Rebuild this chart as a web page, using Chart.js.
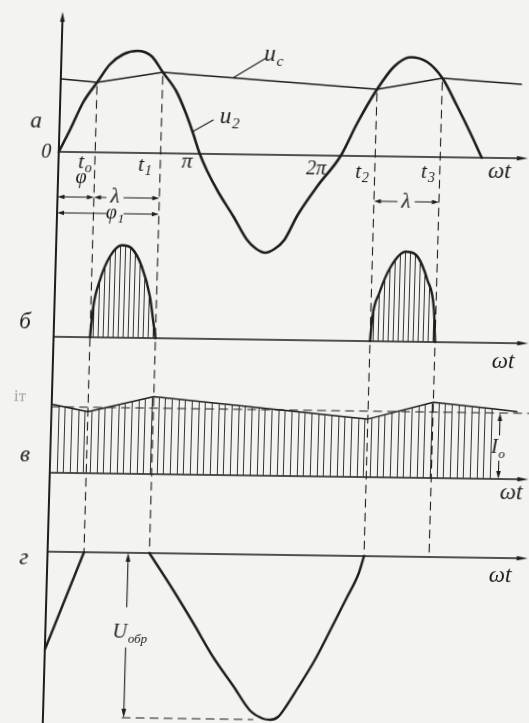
<!DOCTYPE html>
<html>
<head>
<meta charset="utf-8">
<title>Однополупериодный выпрямитель с ёмкостным фильтром</title>
<script src="https://cdn.jsdelivr.net/npm/chart.js"></script>
<style>
  html, body { margin: 0; padding: 0; width: 529px; height: 723px; overflow: hidden; background: #f3f3f1; }
  /* the printed plate sits slightly askew on the page */
  #plate { position: absolute; left: 0; top: 0; width: 560px; height: 740px;
           transform: matrix(1, 0.014, -0.028, 1, 0, 0); transform-origin: 0 0; }
  canvas { display: block; }
</style>
</head>
<body>
<div id="plate"><canvas id="c" width="560" height="740"></canvas></div>
<script>
// ---- data: ωt in electrical degrees, amplitudes in units of U2m ----

// а) secondary voltage u2 and capacitor voltage uc
const u2Deg = [0, 13.5, 29.5, 46.5, 62, 79, 97, 115, 130, 148, 160, 170, 180,
               190, 205, 225, 243, 255, 267, 279, 291, 307, 331, 360,
               380, 404, 425, 446, 467, 487, 507, 525, 540];
const u2Val = [0, 0.22, 0.50, 0.70, 0.88, 0.985, 1.02, 0.97, 0.81, 0.62, 0.42, 0.22, 0,
               -0.17, -0.38, -0.62, -0.85, -0.94, -0.98, -0.94, -0.85, -0.60, -0.31, 0,
               0.33, 0.67, 0.90, 0.995, 0.95, 0.79, 0.51, 0.24, 0];

const tDeg  = [46.5, 130, 404, 487];            // t0, t1, t2, t3
const ucDeg = [0, 46.5, 130, 404, 487, 588];
const ucVal = [0.73, 0.70, 0.81, 0.67, 0.79, 0.74];

// б) diode current pulses
const ia1Deg = [46.5, 49.5, 57, 69, 84, 96.5, 110, 121.5, 127, 130];
const ia1Val = [0, 0.30, 0.57, 0.81, 0.925, 0.895, 0.715, 0.415, 0.15, 0];
const ia2Deg = [404, 406.2, 414, 428, 446.5, 459.5, 475, 484.5, 487];
const ia2Val = [0, 0.245, 0.48, 0.75, 0.90, 0.87, 0.62, 0.32, 0];

// в) load current and its mean value I0
const iLoadDeg = [0, 46.5, 130, 404, 487, 565, 594];
const iLoadVal = [0.684, 0.615, 0.774, 0.581, 0.758, 0.70, 0.675];
const iLoadHatchedCount = 6;                    // hatching stops before the I0 arrow
const I0 = 0.66;

// г) reverse voltage across the diode
const uRev1Deg = [0, 46.5];
const uRev1Val = [-0.98, 0];
const uRev2Deg = [130, 162, 189, 215, 242, 264, 281, 290, 300, 311, 324, 344, 364, 384, 398, 404];
const uRev2Val = [0, -0.37, -0.70, -1.03, -1.32, -1.56, -1.64, -1.65, -1.62, -1.50, -1.33, -1.06, -0.74, -0.41, -0.17, 0];
const uRevPeak = -1.65;

// ---- styling / layout ----
const INK = '#1d1d1d';
const FONT = '"Liberation Serif", "DejaVu Serif", serif';

// horizontal axis of each panel and where its arrow tip ends (degrees)
const AXES = [['ya', 599], ['yb', 606], ['yv', 611], ['yg', 613]];

// dimension arrows: from, to, level, label centre (null = no gap)
const DIMS = [
  ['ya', 0, tDeg[0], -0.45, null],
  ['ya', tDeg[0], tDeg[1], -0.45, 73.4],
  ['ya', 0, tDeg[1], -0.61, 74],
  ['ya', tDeg[2], tDeg[3], -0.45, 445]
];

// text: axis, deg, value, main, subscript, size, colour, style
const LABELS = [
  ['ya', -30, 0.30, 'а', '', 23],
  ['ya', -16, -0.01, '0', '', 20],
  ['ya', 34, -0.10, 't', 'o', 21],
  ['ya', 110.6, -0.12, 't', '1', 21],
  ['ya', 164, -0.085, 'π', '', 22],
  ['ya', 329, -0.135, '2π', '', 20],
  ['ya', 388, -0.16, 't', '2', 21],
  ['ya', 472, -0.15, 't', '3', 21],
  ['ya', 563, -0.14, 'ωt', '', 23],
  ['ya', 271, 1.00, 'u', 'c', 23],
  ['ya', 217, 0.37, 'u', '2', 23],
  ['ya', 29.4, -0.26, 'φ', '', 20],
  ['ya', 73.4, -0.445, 'λ', '', 21],
  ['ya', 74, -0.605, 'φ', '1', 20],
  ['ya', 445, -0.45, 'λ', '', 21],
  ['yb', -37, 0.14, 'б', '', 23],
  ['yb', 574.6, -0.19, 'ωt', '', 23],
  ['yv', -40.7, 0.75, 'iт', '', 17, '#a2a2a2', 'normal'],
  ['yv', -32.3, 0.17, 'в', '', 23],
  ['yv', 571.3, 0.31, 'I', 'o', 20],
  ['yv', 589.5, -0.14, 'ωt', '', 23],
  ['yg', -30, -0.07, 'г', '', 23],
  ['yg', 578.4, -0.18, 'ωt', '', 23],
  ['yg', 108, -0.80, 'U', 'обр', 20]
];

const pts = (xs, ys) => xs.map((x, i) => ({ x, y: ys[i] }));

function hatch(tile, xs, color) {
  const c = document.createElement('canvas');
  c.width = tile; c.height = 8;
  const g = c.getContext('2d');
  g.strokeStyle = color; g.lineWidth = 1;
  g.beginPath();
  xs.forEach(x => { g.moveTo(x, 0); g.lineTo(x, 8); });
  g.stroke();
  return g.createPattern(c, 'repeat');
}

function seg(ctx, x1, y1, x2, y2) {
  ctx.beginPath(); ctx.moveTo(x1, y1); ctx.lineTo(x2, y2); ctx.stroke();
}

function head(ctx, x, y, dx, dy, len, half) {
  const n = Math.hypot(dx, dy), ux = dx / n, uy = dy / n;
  ctx.beginPath();
  ctx.moveTo(x, y);
  ctx.lineTo(x - ux * len - uy * half, y - uy * len + ux * half);
  ctx.lineTo(x - ux * len + uy * half, y - uy * len - ux * half);
  ctx.closePath(); ctx.fill();
}

function text(ctx, x, y, main, sub, size, color, style) {
  const st = style || 'italic';
  ctx.fillStyle = color || INK;
  ctx.textBaseline = 'middle'; ctx.textAlign = 'left';
  ctx.font = `${st} ${size}px ${FONT}`;
  const w1 = ctx.measureText(main).width;
  const subSize = Math.round(size * 0.66);
  ctx.font = `${st} ${subSize}px ${FONT}`;
  const w2 = sub ? ctx.measureText(sub).width + 1 : 0;
  const x0 = x - (w1 + w2) / 2;
  ctx.font = `${st} ${size}px ${FONT}`;
  ctx.fillText(main, x0, y);
  if (sub) {
    ctx.font = `${st} ${subSize}px ${FONT}`;
    ctx.fillText(sub, x0 + w1 + 1, y + size * 0.32);
  }
}

const sketch = {
  id: 'sketch',
  beforeDatasetsDraw(chart) {
    const { ctx, scales: s, chartArea } = chart;
    const X = v => s.x.getPixelForValue(v);
    const Y = (id, v) => s[id].getPixelForValue(v);
    ctx.save();
    ctx.strokeStyle = INK; ctx.fillStyle = INK; ctx.lineCap = 'round';

    // ordinate
    ctx.lineWidth = 2;
    seg(ctx, X(0), chartArea.top + 8, X(0), chart.height);
    head(ctx, X(0), chartArea.top, 0, -1, 10, 2.4);

    // abscissas ωt
    ctx.lineWidth = 1.6;
    AXES.forEach(([id, end]) => {
      const y = Y(id, 0);
      seg(ctx, X(0), y, X(end) - 6, y);
      head(ctx, X(end), y, 1, 0, 11, 2.3);
    });

    // dashed markers t0..t3, the I0 level and the peak reverse voltage
    ctx.setLineDash([8, 6]); ctx.lineWidth = 1.1;
    tDeg.forEach(t => {
      const k = ucDeg.indexOf(t);
      seg(ctx, X(t), Y('ya', ucVal[k]) + 4, X(t), Y('yg', 0));
    });
    seg(ctx, X(0), Y('yv', I0), X(611), Y('yv', I0));
    seg(ctx, X(101), Y('yg', uRevPeak), X(268), Y('yg', uRevPeak));
    ctx.restore();
  },
  afterDatasetsDraw(chart) {
    const { ctx, scales: s } = chart;
    const X = v => s.x.getPixelForValue(v);
    const Y = (id, v) => s[id].getPixelForValue(v);
    ctx.save();
    ctx.strokeStyle = INK; ctx.fillStyle = INK; ctx.lineCap = 'round';

    // φ, λ, φ1 dimension arrows
    ctx.lineWidth = 1.1;
    DIMS.forEach(([id, a, b, v, gap]) => {
      const y = Y(id, v), xa = X(a), xb = X(b);
      if (gap === null) {
        seg(ctx, xa + 4, y, xb - 4, y);
      } else {
        const g = X(gap);
        seg(ctx, xa + 4, y, g - 9, y);
        seg(ctx, g + 9, y, xb - 4, y);
      }
      head(ctx, xa, y, -1, 0, 7, 2.2);
      head(ctx, xb, y, 1, 0, 7, 2.2);
    });

    // leaders for uc and u2
    ctx.lineWidth = 1.1;
    seg(ctx, X(220), Y('ya', 0.765), X(261), Y('ya', 0.965));
    seg(ctx, X(170), Y('ya', 0.22), X(196), Y('ya', 0.34));

    // I0 arrow
    const xi = X(572.6);
    seg(ctx, xi, Y('yv', I0) + 6, xi, Y('yv', 0.44));
    seg(ctx, xi, Y('yv', 0.18), xi, Y('yv', 0) - 6);
    head(ctx, xi, Y('yv', I0), 0, -1, 8, 2.3);
    head(ctx, xi, Y('yv', 0), 0, 1, 8, 2.3);

    // U_обр arrow
    const xu = X(103);
    seg(ctx, xu, Y('yg', 0) + 6, xu, Y('yg', -0.54));
    seg(ctx, xu, Y('yg', -0.95), xu, Y('yg', uRevPeak) - 6);
    head(ctx, xu, Y('yg', 0), 0, -1, 9, 2.4);
    head(ctx, xu, Y('yg', uRevPeak), 0, 1, 9, 2.4);

    LABELS.forEach(([id, d, v, main, sub, size, color, style]) => {
      text(ctx, X(d), Y(id, v), main, sub, size, color, style);
    });
    ctx.restore();
  }
};

const ctx = document.getElementById('c').getContext('2d');
const hatchB = hatch(5, [2.5], '#333');
const hatchV = hatch(20, [3.5, 10.5, 16.5], '#333');

const curve = (extra) => Object.assign({
  borderColor: INK, pointRadius: 0, fill: false, clip: false,
  borderJoinStyle: 'round', borderCapStyle: 'round'
}, extra);

new Chart(ctx, {
  type: 'line',
  data: {
    datasets: [
      curve({ label: 'u2', data: pts(u2Deg, u2Val), yAxisID: 'ya', borderWidth: 2.6, cubicInterpolationMode: 'monotone' }),
      curve({ label: 'uc', data: pts(ucDeg, ucVal), yAxisID: 'ya', borderWidth: 1.5, tension: 0 }),
      curve({ label: 'ia', data: pts(ia1Deg, ia1Val), yAxisID: 'yb', borderWidth: 2.4, cubicInterpolationMode: 'monotone',
              fill: { value: 0 }, backgroundColor: hatchB }),
      curve({ label: 'ia', data: pts(ia2Deg, ia2Val), yAxisID: 'yb', borderWidth: 2.4, cubicInterpolationMode: 'monotone',
              fill: { value: 0 }, backgroundColor: hatchB }),
      curve({ label: 'iн fill', data: pts(iLoadDeg.slice(0, iLoadHatchedCount), iLoadVal.slice(0, iLoadHatchedCount)),
              yAxisID: 'yv', borderWidth: 1, borderColor: 'rgba(0,0,0,0)', tension: 0,
              fill: { value: 0 }, backgroundColor: hatchV }),
      curve({ label: 'iн', data: pts(iLoadDeg, iLoadVal), yAxisID: 'yv', borderWidth: 1.5, tension: 0 }),
      curve({ label: 'uобр', data: pts(uRev1Deg, uRev1Val), yAxisID: 'yg', borderWidth: 2.4, tension: 0 }),
      curve({ label: 'uобр', data: pts(uRev2Deg, uRev2Val), yAxisID: 'yg', borderWidth: 2.4, cubicInterpolationMode: 'monotone' })
    ]
  },
  options: {
    responsive: false,
    animation: false,
    devicePixelRatio: 1,
    layout: { padding: { left: 63, right: 27, top: 11, bottom: 9 } },
    plugins: { legend: { display: false }, tooltip: { enabled: false } },
    scales: {
      x:  { type: 'linear', display: false, min: 0, max: 600 },
      ya: { type: 'linear', display: false, position: 'left', stack: 'panels', stackWeight: 240, weight: 4, min: -1.0, max: 1.4 },
      yb: { type: 'linear', display: false, position: 'left', stack: 'panels', stackWeight: 121, weight: 3, min: -0.36, max: 0.85 },
      yv: { type: 'linear', display: false, position: 'left', stack: 'panels', stackWeight: 120, weight: 2, min: -0.2, max: 1.0 },
      yg: { type: 'linear', display: false, position: 'left', stack: 'panels', stackWeight: 239, weight: 1, min: -1.8, max: 0.59 }
    }
  },
  plugins: [sketch]
});
</script>
</body>
</html>
